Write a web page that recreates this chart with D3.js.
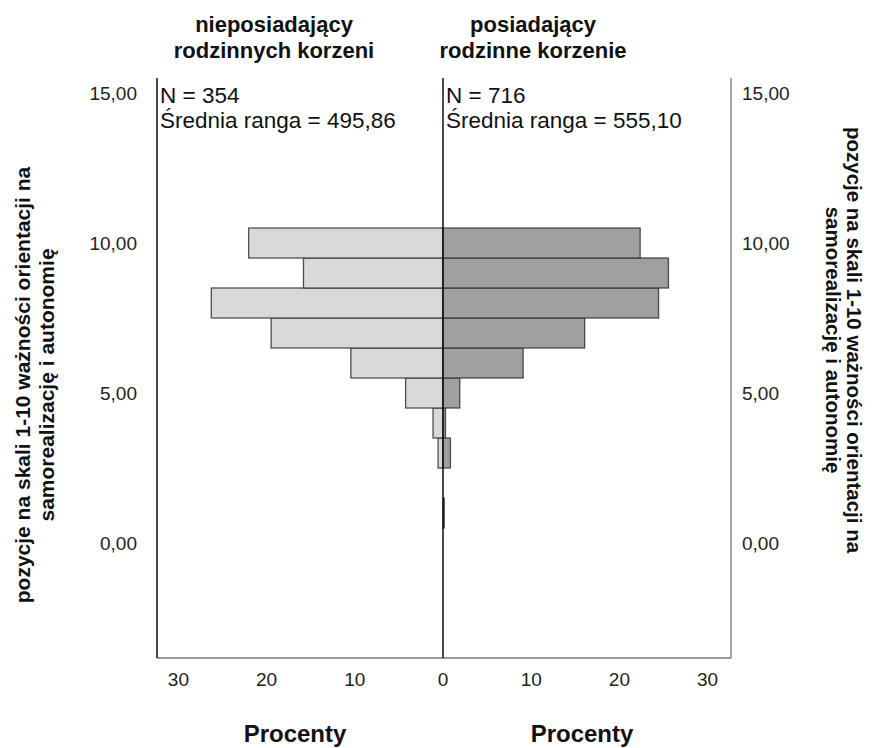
<!DOCTYPE html>
<html>
<head>
<meta charset="utf-8">
<script src="https://cdn.jsdelivr.net/npm/d3@7"></script>
<style>
  body { margin: 0; background: #fff; }
  svg { display: block; }
  text { font-family: "Liberation Sans", Arial, sans-serif; }
</style>
</head>
<body>
<svg id="chart" width="875" height="748"></svg>
<script>
// ---- data (percent of group in each scale position) ----
const positions = [1, 2, 3, 4, 5, 6, 7, 8, 9, 10];
const leftPct  = [0, 0, 0.56, 1.13, 4.24, 10.45, 19.49, 26.27, 15.82, 22.03];   // nieposiadający
const rightPct = [0.14, 0, 0.84, 0.28, 1.90, 9.08, 16.06, 24.44, 25.56, 22.35]; // posiadający
const yTicks = [0, 5, 10, 15];
const xTicks = [0, 10, 20, 30];
const leftTitle = ["nieposiadający", "rodzinnych korzeni"];
const rightTitle = ["posiadający", "rodzinne korzenie"];
const leftStats = ["N = 354", "Średnia ranga = 495,86"];
const rightStats = ["N = 716", "Średnia ranga = 555,10"];
const yTitle = ["pozycje na skali 1-10 ważności orientacji na", "samorealizację i autonomię"];
const xTitle = "Procenty";

const svg = d3.select("#chart");
const x0 = 443, xL = 157, xR = 731, yTop = 78, yBot = 658;

const y = d3.scaleLinear().domain([-115 / 30, 15.5]).range([yBot, yTop]);
const xLeft = d3.scaleLinear().domain([0, (x0 - xL) / 8.82]).range([x0, xL]);
const xRight = d3.scaleLinear().domain([0, (xR - x0) / 8.82]).range([x0, xR]);

const fmt = v => d3.format(".2f")(v).replace(".", ",");

// bars
const leftData = positions.map((p, i) => ({ p, v: leftPct[i] })).filter(d => d.v > 0);
const rightData = positions.map((p, i) => ({ p, v: rightPct[i] })).filter(d => d.v > 0);

svg.append("g").selectAll("rect").data(leftData).join("rect")
  .attr("x", d => xLeft(d.v))
  .attr("y", d => y(d.p + 0.5))
  .attr("width", d => x0 - xLeft(d.v))
  .attr("height", d => y(d.p - 0.5) - y(d.p + 0.5))
  .attr("fill", "#d9d9d9")
  .attr("stroke", "#333")
  .attr("stroke-opacity", 0.85)
  .attr("stroke-width", 1.3);

svg.append("g").selectAll("rect").data(rightData).join("rect")
  .attr("x", x0)
  .attr("y", d => y(d.p + 0.5))
  .attr("width", d => xRight(d.v) - x0)
  .attr("height", d => y(d.p - 0.5) - y(d.p + 0.5))
  .attr("fill", "#a0a0a0")
  .attr("stroke", "#333")
  .attr("stroke-opacity", 0.85)
  .attr("stroke-width", 1.3);

// frame lines
svg.append("line").attr("x1", xL).attr("x2", xR).attr("y1", yBot).attr("y2", yBot)
  .attr("stroke", "#777").attr("stroke-width", 1.5);
svg.append("line").attr("x1", xL).attr("x2", xL).attr("y1", yTop).attr("y2", yBot)
  .attr("stroke", "#111").attr("stroke-width", 1.5);
svg.append("line").attr("x1", xR).attr("x2", xR).attr("y1", yTop).attr("y2", yBot)
  .attr("stroke", "#888").attr("stroke-width", 1.5);
svg.append("line").attr("x1", x0).attr("x2", x0).attr("y1", yTop).attr("y2", yBot)
  .attr("stroke", "#111").attr("stroke-width", 1.5);

// y tick labels (left and right)
svg.append("g").selectAll("text").data(yTicks).join("text")
  .attr("x", 137).attr("y", d => y(d)).attr("dy", "0.35em")
  .attr("text-anchor", "end").attr("font-size", 19).attr("fill", "#222")
  .text(fmt);
svg.append("g").selectAll("text").data(yTicks).join("text")
  .attr("x", 742).attr("y", d => y(d)).attr("dy", "0.35em")
  .attr("text-anchor", "start").attr("font-size", 19).attr("fill", "#222")
  .text(fmt);

// x tick labels
svg.append("g").selectAll("text").data(xTicks).join("text")
  .attr("x", d => xLeft(d)).attr("y", 679).attr("dy", "0.35em")
  .attr("text-anchor", "middle").attr("font-size", 19).attr("fill", "#222")
  .text(d => d);
svg.append("g").selectAll("text").data(xTicks.filter(d => d > 0)).join("text")
  .attr("x", d => xRight(d)).attr("y", 679).attr("dy", "0.35em")
  .attr("text-anchor", "middle").attr("font-size", 19).attr("fill", "#222")
  .text(d => d);

// x titles
[295, 582].forEach(cx => {
  svg.append("text").attr("x", cx).attr("y", 742).attr("text-anchor", "middle")
    .attr("font-size", 24).attr("font-weight", "bold").attr("fill", "#111").text(xTitle);
});

// panel titles
function twoLines(cx, lines) {
  lines.forEach((t, i) => {
    svg.append("text").attr("x", cx).attr("y", 32 + i * 26).attr("text-anchor", "middle")
      .attr("font-size", 22).attr("font-weight", "bold").attr("fill", "#111").text(t);
  });
}
twoLines(274, leftTitle);
twoLines(533, rightTitle);

// stats
function stats(xs, lines) {
  lines.forEach((t, i) => {
    svg.append("text").attr("x", xs).attr("y", 103 + i * 25)
      .attr("font-size", 22.5).attr("fill", "#111").text(t);
  });
}
stats(160, leftStats);
stats(446, rightStats);

// y titles
const lt = svg.append("g").attr("transform", "translate(0,385) rotate(-90)");
yTitle.forEach((t, i) => {
  lt.append("text").attr("x", 0).attr("y", 30 + i * 24).attr("text-anchor", "middle")
    .attr("font-family", "Lato, 'Open Sans', sans-serif")
    .attr("font-size", 21).attr("font-weight", "bold").attr("fill", "#111").text(t);
});
const rt = svg.append("g").attr("transform", "translate(875,340) rotate(90)");
yTitle.forEach((t, i) => {
  rt.append("text").attr("x", 0).attr("y", 28 + i * 21).attr("text-anchor", "middle")
    .attr("font-size", 20.5).attr("font-weight", "bold").attr("fill", "#111").text(t);
});
</script>
</body>
</html>
